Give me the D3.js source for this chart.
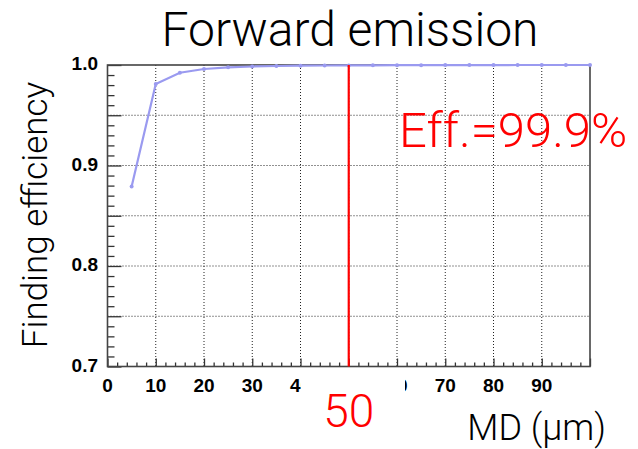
<!DOCTYPE html>
<html>
<head>
<meta charset="utf-8">
<script src="https://cdn.jsdelivr.net/npm/d3@7"></script>
<style>
  html, body { margin: 0; padding: 0; background: #fff; }
  svg { display: block; }
  .light { font-family: "Helvetica Neue", Roboto, "Liberation Sans", sans-serif; font-weight: 300; }
  .tick-label { font-family: "Liberation Sans", Arial, sans-serif; font-weight: bold; font-size: 19px; fill: #000; }
</style>
</head>
<body>
<svg id="chart" width="638" height="449"></svg>
<script>
// Track-finding efficiency versus minimum distance (MD)
const mdValues = [5, 10, 15, 20, 25, 30, 35, 40, 45, 50, 55, 60, 65, 70, 75, 80, 85, 90, 95, 100];
const efficiency = [0.879, 0.981, 0.9923, 0.996, 0.9977, 0.9985, 0.999, 0.9993, 0.9995, 0.9996,
                    0.9997, 0.9998, 0.9998, 0.9999, 0.9999, 0.9999, 1.0, 1.0, 1.0, 1.0];
// the 50 label is replaced by the red cut value below the axis
const xTickValues = [0, 10, 20, 30, 40, 60, 70, 80, 90];
const yTickLabels = [0.7, 0.8, 0.9, 1.0];
const cutValue = 50;
const effLabel = "Eff.=99.9%";

const svg = d3.select("#chart");
const plot = { left: 107.5, right: 590, top: 65, bottom: 366.5 };

const x = d3.scaleLinear().domain([0, 100]).range([plot.left, plot.right]);
const y = d3.scaleLinear().domain([0.7, 1.0]).range([plot.bottom, plot.top]);

// dotted grid
const grid = svg.append("g").attr("stroke", "#222").attr("stroke-width", 1)
  .attr("stroke-dasharray", "1,2");
d3.range(10, 100, 10).forEach(v => {
  grid.append("line").attr("x1", x(v)).attr("x2", x(v)).attr("y1", plot.top).attr("y2", plot.bottom);
});
d3.range(0.75, 0.999, 0.05).forEach(v => {
  grid.append("line").attr("x1", plot.left).attr("x2", plot.right).attr("y1", y(v)).attr("y2", y(v));
});

// y axis ticks: minor every 0.01, major every 0.05
const yAxis = d3.axisRight(y)
  .tickValues(d3.range(0, 31).map(i => 0.7 + i * 0.01))
  .tickSize(7).tickFormat("");
const yg = svg.append("g").attr("transform", `translate(${plot.left},0)`).call(yAxis);
yg.select(".domain").remove();
yg.selectAll(".tick line")
  .attr("stroke", "#333").attr("stroke-width", 1.3)
  .attr("x2", (d, i) => (i % 5 === 0 ? 14 : 7));

// x axis ticks: minor every 2, major every 10
const xAxis = d3.axisTop(x)
  .tickValues(d3.range(0, 51).map(i => i * 2))
  .tickSize(4).tickFormat("");
const xg = svg.append("g").attr("transform", `translate(0,${plot.bottom})`).call(xAxis);
xg.select(".domain").remove();
xg.selectAll(".tick line")
  .attr("stroke", "#333").attr("stroke-width", 1.3)
  .attr("y2", (d, i) => (i % 5 === 0 ? -8 : -4));

// frame
svg.append("rect")
  .attr("x", plot.left).attr("y", plot.top)
  .attr("width", plot.right - plot.left).attr("height", plot.bottom - plot.top)
  .attr("fill", "none").attr("stroke", "#444").attr("stroke-width", 1.6);

// tick labels
svg.append("g").selectAll("text").data(xTickValues).join("text")
  .attr("class", "tick-label")
  .attr("x", d => x(d)).attr("y", 392)
  .attr("text-anchor", "middle")
  .text(d => d);
svg.append("g").selectAll("text").data(yTickLabels).join("text")
  .attr("class", "tick-label")
  .attr("x", 98).attr("y", d => y(d) + 5)
  .attr("text-anchor", "end")
  .text(d => d3.format(".1f")(d));

// blank patch over the labels around the cut value
svg.append("rect")
  .attr("x", 301).attr("y", 371).attr("width", 104).attr("height", 26)
  .attr("fill", "#fff");

// efficiency curve
const line = d3.line().x((d, i) => x(mdValues[i])).y(d => y(d));
svg.append("path").datum(efficiency)
  .attr("d", line)
  .attr("fill", "none").attr("stroke", "#9a9af0").attr("stroke-width", 2.2);
svg.append("g").selectAll("circle").data(efficiency).join("circle")
  .attr("cx", (d, i) => x(mdValues[i])).attr("cy", d => y(d))
  .attr("r", 2).attr("fill", "#9a9af0");

// cut line
svg.append("line")
  .attr("x1", x(cutValue)).attr("x2", x(cutValue))
  .attr("y1", plot.top).attr("y2", plot.bottom)
  .attr("stroke", "#ff0000").attr("stroke-width", 2.2);

// titles and annotations
svg.append("text").attr("class", "light")
  .attr("x", 350).attr("y", 46).attr("text-anchor", "middle")
  .attr("font-size", 48).attr("fill", "#000")
  .text("Forward emission");

svg.append("text").attr("class", "light")
  .attr("transform", "translate(47,215) rotate(-90)")
  .attr("text-anchor", "middle")
  .attr("font-size", 35).attr("fill", "#000")
  .text("Finding efficiency");

svg.append("text").attr("class", "light")
  .attr("x", 606).attr("y", 440).attr("text-anchor", "end")
  .attr("font-size", 36).attr("fill", "#000")
  .text("MD (µm)");

svg.append("text").attr("class", "light")
  .attr("x", x(cutValue)).attr("y", 427).attr("text-anchor", "middle")
  .attr("font-size", 46).attr("fill", "#ff0000")
  .text(cutValue);

svg.append("text").attr("class", "light")
  .attr("x", 399).attr("y", 147).attr("text-anchor", "start")
  .attr("font-size", 49).attr("fill", "#ff0000")
  .text(effLabel);
</script>
</body>
</html>
